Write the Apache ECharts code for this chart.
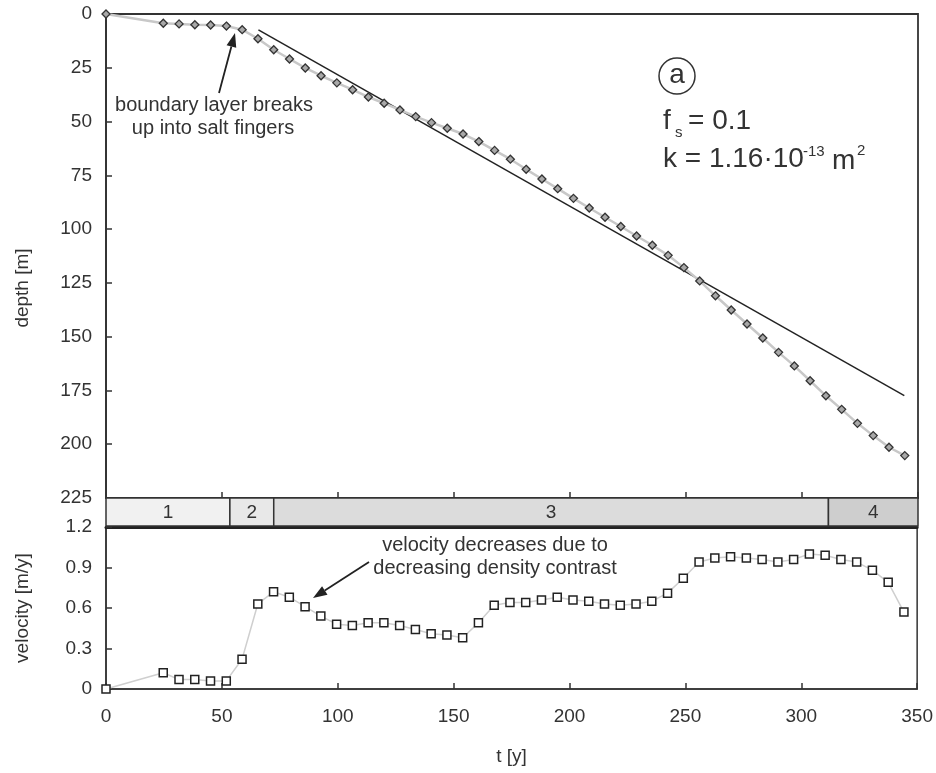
<!DOCTYPE html>
<html><head><meta charset="utf-8">
<script src="https://cdn.jsdelivr.net/npm/echarts@6/dist/echarts.min.js"></script>
<style>html,body{margin:0;padding:0;background:#fff}#c{width:936px;height:773px}</style>
</head><body><div id="c"></div>
<script>
// ---- data ----
const timeYears = [0, 24.7, 31.5, 38.3, 45.1, 51.9, 58.7, 65.5, 72.3, 79.1, 85.9, 92.7, 99.5, 106.3, 113.1, 119.9,
  126.7, 133.5, 140.3, 147.1, 153.9, 160.7, 167.5, 174.3, 181.1, 187.9, 194.7, 201.5, 208.3, 215.1, 221.9,
  228.7, 235.5, 242.3, 249.1, 255.9, 262.7, 269.5, 276.3, 283.1, 289.9, 296.7, 303.5, 310.3, 317.1, 323.9,
  330.7, 337.5, 344.3];
const depthM = [0, 4.3, 4.6, 5.0, 5.1, 5.6, 7.3, 11.5, 16.6, 20.9, 25.1, 28.7, 32.0, 35.2, 38.6, 41.5,
  44.6, 47.7, 50.5, 53.1, 55.8, 59.3, 63.4, 67.5, 72.2, 76.7, 81.2, 85.7, 90.2, 94.5, 98.8,
  103.2, 107.5, 112.2, 117.9, 124.1, 131.0, 137.6, 144.1, 150.6, 157.3, 163.6, 170.5, 177.5, 183.8, 190.3,
  196.0, 201.4, 205.3];
const velocityMY = [0, 0.12, 0.07, 0.07, 0.06, 0.06, 0.22, 0.63, 0.72, 0.68, 0.61, 0.54, 0.48, 0.47, 0.49, 0.49,
  0.47, 0.44, 0.41, 0.40, 0.38, 0.49, 0.62, 0.64, 0.64, 0.66, 0.68, 0.66, 0.65, 0.63, 0.62,
  0.63, 0.65, 0.71, 0.82, 0.94, 0.97, 0.98, 0.97, 0.96, 0.94, 0.96, 1.00, 0.99, 0.96, 0.94,
  0.88, 0.79, 0.57];
const fitT = [65.7, 344.1];
const fitDepth = [7.4, 177.4];
const phaseLabels = ['1', '2', '3', '4'];
const phaseStart = [0, 53.4, 72.3, 311.4];
const phaseEnd = [53.4, 72.3, 311.4, 350];

// ---- styles ----
const FONT = 'Liberation Sans, Arial, Helvetica, sans-serif';
const INK = '#333';
const phaseFill = ['#f1f1f1', '#e8e8e8', '#dcdcdc', '#cecece'];

function arrow(x1, y1, x2, y2) {
  const dx = x2 - x1, dy = y2 - y1, L = Math.hypot(dx, dy);
  const ux = dx / L, uy = dy / L, hl = 14, hw = 5;
  const bx = x2 - ux * hl, by = y2 - uy * hl;
  return [
    { type: 'line', shape: { x1: x1, y1: y1, x2: bx, y2: by }, style: { stroke: '#222', lineWidth: 1.8 } },
    { type: 'polygon', shape: { points: [[x2, y2], [bx - uy * hw, by + ux * hw], [bx + uy * hw, by - ux * hw]] },
      style: { fill: '#222' } }
  ];
}
function txt(x, y, s, size, align) {
  return { type: 'text', x: x, y: y, style: { text: s, font: size + 'px ' + FONT, fill: INK,
    textAlign: align || 'left', textVerticalAlign: 'middle' } };
}

const chart = echarts.init(document.getElementById('c'), null, { renderer: 'canvas' });
const labelStyle = { color: INK, fontSize: 19, fontFamily: FONT };
const option = {
  animation: false,
  backgroundColor: '#fff',
  grid: [
    { left: 106, top: 14, width: 812, height: 484, show: true, borderColor: INK, borderWidth: 1.8 },
    { left: 106, top: 498, width: 812, height: 28 },
    { left: 106, top: 527, width: 812, height: 162, show: true, borderColor: INK, borderWidth: 1.5 }
  ],
  xAxis: [
    { gridIndex: 0, type: 'value', min: 0, max: 350, interval: 50, position: 'bottom',
      axisLine: { onZero: false, lineStyle: { color: INK, width: 1.5 } },
      axisTick: { inside: true, length: 6, lineStyle: { color: INK, width: 1.5 } },
      axisLabel: { show: false }, splitLine: { show: false } },
    { gridIndex: 1, type: 'value', min: 0, max: 350, show: false },
    { gridIndex: 2, type: 'value', min: 0, max: 350, interval: 50, position: 'bottom',
      name: 't [y]', nameLocation: 'middle', nameGap: 58,
      nameTextStyle: { color: INK, fontSize: 19, fontFamily: FONT },
      axisLine: { onZero: false, lineStyle: { color: INK, width: 1.5 } },
      axisTick: { inside: true, length: 6, lineStyle: { color: INK, width: 1.5 } },
      axisLabel: Object.assign({ margin: 18 }, labelStyle), splitLine: { show: false } },
    { gridIndex: 2, type: 'value', min: 0, max: 350, position: 'top',
      axisLine: { show: true, onZero: false, lineStyle: { color: '#222', width: 3 } },
      axisTick: { show: false }, axisLabel: { show: false }, splitLine: { show: false } }
  ],
  yAxis: [
    { gridIndex: 0, type: 'value', min: 0, max: 225, interval: 25, inverse: true,
      name: 'depth [m]', nameLocation: 'middle', nameGap: 74,
      nameTextStyle: { color: INK, fontSize: 19, fontFamily: FONT, padding: [0, 64, 0, 0] },
      axisLine: { lineStyle: { color: INK, width: 1.8 } },
      axisTick: { inside: true, length: 6, lineStyle: { color: INK, width: 1.5 } },
      axisLabel: Object.assign({ margin: 14 }, labelStyle), splitLine: { show: false } },
    { gridIndex: 1, type: 'value', min: 0, max: 1, show: false },
    { gridIndex: 2, type: 'value', min: 0, max: 1.2, interval: 0.3,
      name: 'velocity [m/y]', nameLocation: 'middle', nameGap: 74,
      nameTextStyle: { color: INK, fontSize: 19, fontFamily: FONT },
      axisLine: { lineStyle: { color: INK, width: 1.5 } },
      axisTick: { inside: true, length: 6, lineStyle: { color: INK, width: 1.5 } },
      axisLabel: Object.assign({ margin: 14 }, labelStyle), splitLine: { show: false } }
  ],
  series: [
    { type: 'line', xAxisIndex: 0, yAxisIndex: 0, z: 3,
      data: timeYears.map((t, i) => [t, depthM[i]]),
      symbol: 'diamond', symbolSize: 8,
      lineStyle: { color: '#c8c8c8', width: 2.5 },
      itemStyle: { color: '#a8a8a8', borderColor: '#333', borderWidth: 1.3 } },
    { type: 'line', xAxisIndex: 0, yAxisIndex: 0, z: 2,
      data: fitT.map((t, i) => [t, fitDepth[i]]), symbol: 'none',
      lineStyle: { color: '#222', width: 1.5 } },
    { type: 'custom', xAxisIndex: 1, yAxisIndex: 1,
      data: phaseLabels.map((p, i) => [phaseStart[i], phaseEnd[i], i]),
      renderItem: function (params, api) {
        const a = api.coord([api.value(0), 0]);
        const b = api.coord([api.value(1), 1]);
        const i = api.value(2);
        return { type: 'group', children: [
          { type: 'rect', shape: { x: a[0], y: b[1], width: b[0] - a[0], height: a[1] - b[1] },
            style: { fill: phaseFill[i], stroke: INK, lineWidth: 1.5 } },
          { type: 'text', x: (a[0] + b[0]) / 2, y: (a[1] + b[1]) / 2 + 1,
            style: { text: phaseLabels[i], font: '19px ' + FONT, fill: INK, textAlign: 'center', textVerticalAlign: 'middle' } }
        ] };
      } },
    { type: 'line', xAxisIndex: 2, yAxisIndex: 2, z: 3,
      data: timeYears.map((t, i) => [t, velocityMY[i]]),
      symbol: 'rect', symbolSize: 8,
      lineStyle: { color: '#cfcfcf', width: 1.5 },
      itemStyle: { color: '#fff', borderColor: '#222', borderWidth: 1.5 } }
  ],
  graphic: [].concat(
    arrow(219, 93, 235, 33),
    arrow(369, 562, 313, 598),
    [
      txt(214, 105, 'boundary layer breaks', 20, 'center'),
      txt(213, 128, 'up into salt fingers', 20, 'center'),
      txt(495, 545, 'velocity decreases due to', 20, 'center'),
      txt(495, 568, 'decreasing density contrast', 20, 'center'),
      { type: 'circle', shape: { cx: 677, cy: 76, r: 18 }, style: { fill: 'none', stroke: INK, lineWidth: 1.5 } },
      txt(677, 75, 'a', 28, 'center'),
      txt(663, 121, 'f', 28),
      txt(675, 133, 's', 15),
      txt(688, 121, '= 0.1', 28),
      txt(663, 159, 'k = 1.16·10', 28),
      txt(803, 152, '-13', 15),
      txt(832, 161, 'm', 28),
      txt(857, 151, '2', 15)
    ]
  )
};
chart.setOption(option);
</script>
</body></html>
